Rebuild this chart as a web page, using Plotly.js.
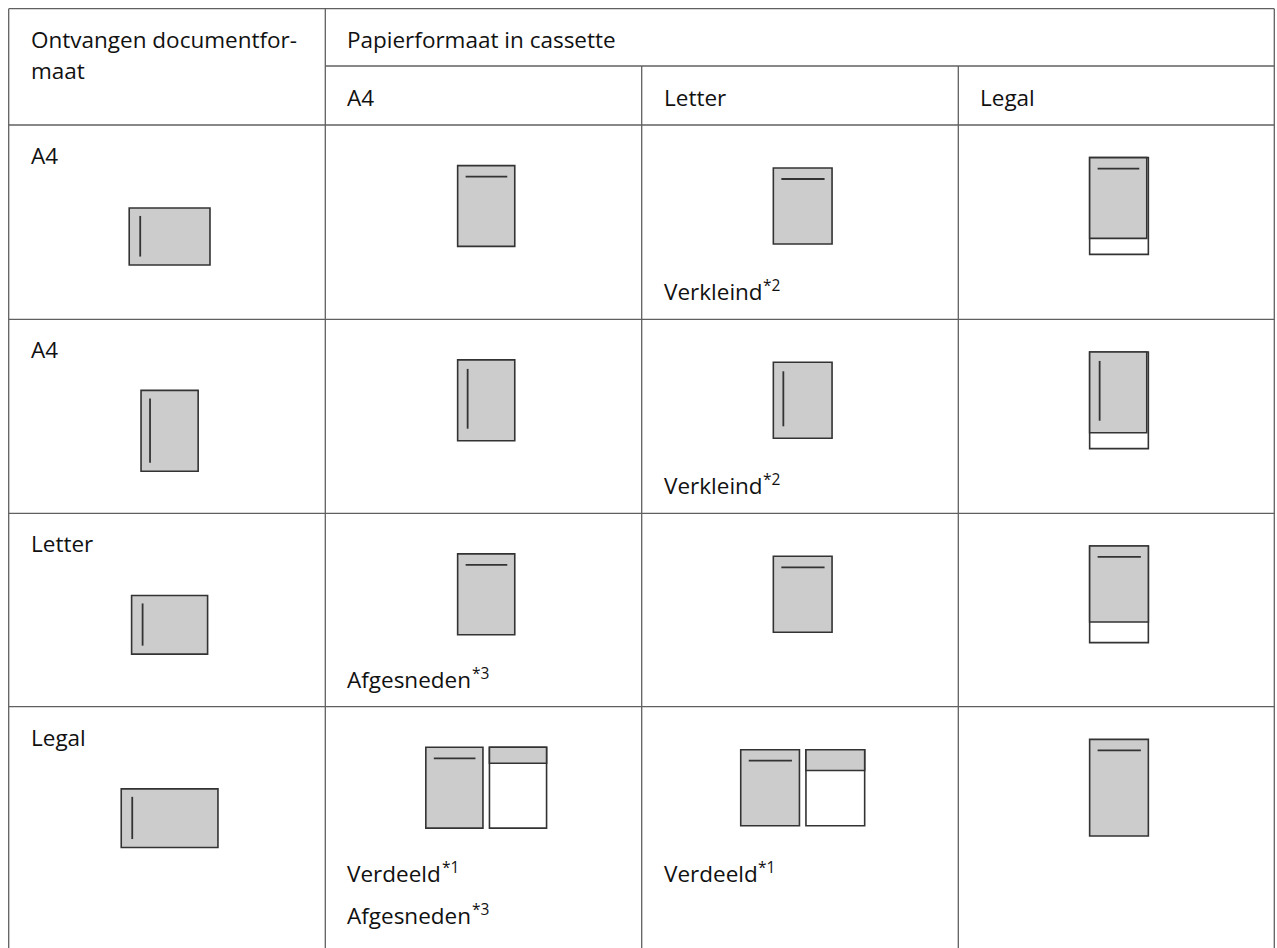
<!DOCTYPE html>
<html>
<head>
<meta charset="utf-8">
<script src="https://cdn.plot.ly/plotly-3.0.1.min.js"></script>
<style>
html,body{margin:0;padding:0;background:#fff;}
#chart{width:1277px;height:948px;}
</style>
</head>
<body>
<div id="chart"></div>
<script>
// ---------------- data ----------------
const receivedHeader = ["Ontvangen documentfor-", "maat"];
const cassetteHeader = "Papierformaat in cassette";
const cassetteSizes = ["A4", "Letter", "Legal"];
const receivedSizes = ["A4", "A4", "Letter", "Legal"];
const receivedOrientation = ["landscape", "portrait", "landscape", "landscape"];
const paperNames = ["A4", "Letter", "Legal"];
const paperWidthMm = [210, 215.9, 215.9];
const paperHeightMm = [297, 279.4, 355.6];
const outcome = [
  ["fit", "reduce", "fit"],
  ["fit", "reduce", "fit"],
  ["crop", "fit", "fit"],
  ["split", "split", "fit"]
];
const notes = [
  [[], ["Verkleind*2"], []],
  [[], ["Verkleind*2"], []],
  [["Afgesneden*3"], [], []],
  [["Verdeeld*1", "Afgesneden*3"], ["Verdeeld*1"], []]
];

// ---------------- layout (positions / styles) ----------------
const W = 1277, H = 948;
const colX = [8.7, 325.3, 641.7, 958.3, 1274.3];
const headTop = 8.7, subHeadY = 66;
const rowY = [125, 319.3, 513.3, 706.7, 948];
const SCALE = 0.272;            // px per mm for the pictograms
const GRID = '#606060', INK = '#333333', FILL = '#cccccc';
const FS = 22.5, SUPFS = 15.5;
const FAMILY = 'Open Sans, sans-serif';
const DESC = 0.293 * FS;        // descent below baseline used for anchoring

const ctx = document.createElement('canvas').getContext('2d');
ctx.font = FS + 'px "Open Sans"';

const shapes = [];
const annotations = [];

function line(x0, y0, x1, y1, color, width) {
  shapes.push({type: 'line', xref: 'x', yref: 'y', x0, y0, x1, y1,
    line: {color, width}});
}
function rect(x0, y0, x1, y1, fill) {
  shapes.push({type: 'rect', xref: 'x', yref: 'y', x0, y0, x1, y1,
    fillcolor: fill, line: {color: INK, width: 1.6}});
}
function label(x, baseline, text, size) {
  const s = size || FS;
  annotations.push({x, y: baseline + 0.293 * s, xref: 'x', yref: 'y', text,
    showarrow: false, xanchor: 'left', yanchor: 'bottom', borderpad: 0,
    font: {family: FAMILY, size: s, color: '#111'}});
}
function note(x, baseline, text) {
  const m = text.match(/^(.*?)\*(\d+)$/);
  const main = m ? m[1] : text;
  label(x, baseline, main);
  if (m) label(x + ctx.measureText(main).width + 0.5, baseline - 9, '*' + m[2], SUPFS);
}
function dims(name, orient) {
  const i = paperNames.indexOf(name);
  const w = paperWidthMm[i] * SCALE, h = paperHeightMm[i] * SCALE;
  return orient === 'landscape' ? [h, w] : [w, h];
}

// ---------------- grid ----------------
line(colX[0], headTop, colX[4], headTop, GRID, 1.3);
line(colX[1], subHeadY, colX[4], subHeadY, GRID, 1.3);
for (let r = 0; r < rowY.length - 1; r++) line(colX[0], rowY[r], colX[4], rowY[r], GRID, 1.3);
line(colX[0], headTop, colX[0], H, GRID, 1.3);
line(colX[1], headTop, colX[1], H, GRID, 1.3);
line(colX[2], subHeadY, colX[2], H, GRID, 1.3);
line(colX[3], subHeadY, colX[3], H, GRID, 1.3);
line(colX[4], headTop, colX[4], H, GRID, 1.3);

// ---------------- header text ----------------
const TX = 21;
label(colX[0] + TX, 49.3, receivedHeader[0]);
label(colX[0] + TX, 80, receivedHeader[1]);
label(colX[1] + TX, 49, cassetteHeader);
cassetteSizes.forEach((s, c) => label(colX[c + 1] + TX, 107, s));

// ---------------- rows ----------------
receivedSizes.forEach((doc, r) => {
  const top = rowY[r];
  const orient = receivedOrientation[r];
  label(colX[0] + TX, top + 40.5, doc);

  // received document pictogram
  const [dw, dh] = dims(doc, orient);
  const cx = (colX[0] + colX[1]) / 2 + 2.6, cy = top + 111.5;
  const l = cx - dw / 2, t = cy - dh / 2;
  rect(l, t, l + dw, t + dh, FILL);
  const ins = orient === 'landscape' ? 11 : 9;
  line(l + ins, t + 8, l + ins, t + dh - 8.5, INK, 1.8);

  // result on each cassette size
  const dirOut = orient === 'landscape' ? 'h' : 'v';
  const [docW, docH] = dims(doc, 'portrait');
  cassetteSizes.forEach((paper, c) => {
    const [pw, ph] = dims(paper, 'portrait');
    const mx = (colX[c + 1] + colX[c + 2]) / 2 + 2.7, my = top + 81;
    const kind = outcome[r][c];
    if (kind === 'split') {
      const gap = 6.5;
      const x0 = mx - (2 * pw + gap) / 2, y0 = my - ph / 2;
      rect(x0, y0, x0 + pw, y0 + ph, FILL);
      line(x0 + 8, y0 + 11, x0 + pw - 7.5, y0 + 11, INK, 1.8);
      const x1 = x0 + pw + gap;
      rect(x1, y0, x1 + pw, y0 + ph, '#ffffff');
      const rest = Math.max(docH - ph, 0);
      rect(x1, y0, x1 + pw, y0 + rest, FILL);
    } else {
      const x0 = mx - pw / 2, y0 = my - ph / 2;
      let gw = pw, gh = ph;
      if (kind === 'fit') {
        gw = Math.min(docW, pw); gh = Math.min(docH, ph);
        if (gw < pw || gh < ph) rect(x0, y0, x0 + pw, y0 + ph, '#ffffff');
      }
      rect(x0, y0, x0 + gw, y0 + gh, FILL);
      if (dirOut === 'h') {
        line(x0 + 8, y0 + 11, x0 + gw - 7.5, y0 + 11, INK, 1.8);
      } else {
        line(x0 + 10, y0 + 9, x0 + 10, y0 + gh - 12, INK, 1.8);
      }
    }
    notes[r][c].forEach((n, k) => note(colX[c + 1] + TX, top + 176.5 + k * 42, n));
  });
});

Plotly.newPlot('chart', [], {
  width: W, height: H,
  margin: {l: 0, r: 0, t: 0, b: 0, pad: 0},
  paper_bgcolor: '#ffffff', plot_bgcolor: '#ffffff',
  showlegend: false,
  xaxis: {range: [0, W], visible: false, fixedrange: true},
  yaxis: {range: [H, 0], visible: false, fixedrange: true},
  shapes, annotations
}, {displayModeBar: false, staticPlot: true});
</script>
</body>
</html>
